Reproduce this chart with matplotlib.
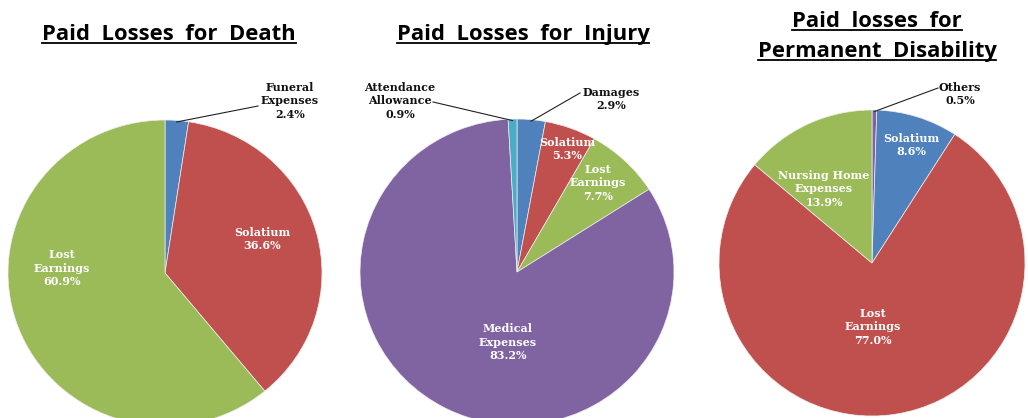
import math
import matplotlib
matplotlib.use('Agg')
import matplotlib.pyplot as plt
from matplotlib.lines import Line2D

W, H = 1028, 418

# ---------------- data ----------------
death_labels = ['Funeral\nExpenses', 'Solatium', 'Lost\nEarnings']
death_values = [2.4, 36.6, 60.9]

injury_labels = ['Damages', 'Solatium', 'Lost\nEarnings', 'Medical\nExpenses', 'Attendance\nAllowance']
injury_values = [2.9, 5.3, 7.7, 83.2, 0.9]

disab_labels = ['Others', 'Solatium', 'Lost\nEarnings', 'Nursing Home\nExpenses']
disab_values = [0.5, 8.6, 77.0, 13.9]

titles = ['Paid  Losses  for  Death', 'Paid  Losses  for  Injury',
          'Paid  losses  for\nPermanent  Disability']

# ---------------- style ----------------
BLUE, RED, GREEN, PURPLE, TEAL = '#4F81BD', '#C0504D', '#9BBB59', '#8064A2', '#4BACC6'
death_colors = [BLUE, RED, GREEN]
injury_colors = [BLUE, RED, GREEN, PURPLE, TEAL]
disab_colors = [PURPLE, BLUE, RED, GREEN]

# pie geometry in pixels: centre x, centre y (from top), radius x, radius y
geoms = [(165, 273, 157, 153), (517, 272, 157, 153), (872, 263, 153, 153)]

# label layout in pixels (centre of text block); 'out' -> black text with leader line end point
label_layout = [
    [dict(pos=(290, 101), out=(258, 106)), dict(pos=(262, 239)), dict(pos=(62, 268))],
    [dict(pos=(611, 99), out=(580, 93)), dict(pos=(567, 149)), dict(pos=(598, 183)),
     dict(pos=(508, 342)), dict(pos=(400, 101), out=(433, 102))],
    [dict(pos=(960, 94), out=(938, 88)), dict(pos=(911, 145)), dict(pos=(873, 327)),
     dict(pos=(824, 189))],
]

title_layout = [  # centre x, baselines
    (169, [40]), (523, [40]), (877, [27, 57])
]

fig = plt.figure(figsize=(W / 100, H / 100), dpi=100)

datasets = [(death_labels, death_values, death_colors),
            (injury_labels, injury_values, injury_colors),
            (disab_labels, disab_values, disab_colors)]

label_font = dict(family='DejaVu Serif', weight='bold', size=8)

for (labels, values, colors), (cx, cy, rx, ry), lays in zip(datasets, geoms, label_layout):
    ax = fig.add_axes([(cx - rx) / W, (H - cy - ry) / H, 2 * rx / W, 2 * ry / H])
    wedges, _ = ax.pie(values, colors=colors, startangle=90, counterclock=False,
                       radius=1, wedgeprops=dict(linewidth=0.5, edgecolor='#eeeeee'))
    ax.set_aspect('auto')
    ax.set_xlim(-1, 1)
    ax.set_ylim(-1, 1)
    ax.axis('off')

    def px2d(p, cx=cx, cy=cy, rx=rx, ry=ry):
        return ((p[0] - cx) / rx, (cy - p[1]) / ry)

    for w, lab, v, lay in zip(wedges, labels, values, lays):
        txt = f"{lab}\n{v:.1f}%"
        x, y = px2d(lay['pos'])
        if 'out' in lay:
            mid = math.radians((w.theta1 + w.theta2) / 2)
            sx, sy = 0.99 * math.cos(mid), 0.99 * math.sin(mid)
            ex, ey = px2d(lay['out'])
            ax.add_line(Line2D([sx, ex], [sy, ey], color='#222222', lw=0.8, clip_on=False))
            ax.text(x, y, txt, ha='center', va='center', color='#111111',
                    linespacing=1.3, clip_on=False, **label_font)
        else:
            ax.text(x, y, txt, ha='center', va='center', color='white',
                    linespacing=1.3, clip_on=False, **label_font)

# titles with underline
title_texts = []
for title, (tx, baselines) in zip(titles, title_layout):
    for line, by in zip(title.split('\n'), baselines):
        t = fig.text(tx / W, (H - by) / H, line, ha='center', va='baseline',
                     fontsize=15.8, fontweight='bold', family='Open Sans', color='black')
        title_texts.append((t, by))

fig.canvas.draw()
renderer = fig.canvas.get_renderer()
for t, by in title_texts:
    bb = t.get_window_extent(renderer)
    uy = (H - by - 3) / H
    fig.add_artist(Line2D([bb.x0 / W, bb.x1 / W], [uy, uy], color='black', lw=1.3,
                          transform=fig.transFigure))

fig.savefig('out.png', dpi=100)
